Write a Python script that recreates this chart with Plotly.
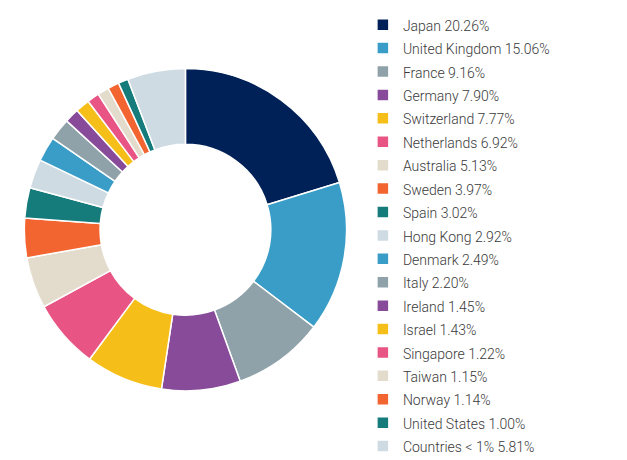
import plotly.graph_objects as go

countries = ["Japan", "United Kingdom", "France", "Germany", "Switzerland",
             "Netherlands", "Australia", "Sweden", "Spain", "Hong Kong",
             "Denmark", "Italy", "Ireland", "Israel", "Singapore",
             "Taiwan", "Norway", "United States", "Countries < 1%"]
weights = [20.26, 15.06, 9.16, 7.90, 7.77, 6.92, 5.13, 3.97, 3.02, 2.92,
           2.49, 2.20, 1.45, 1.43, 1.22, 1.15, 1.14, 1.00, 5.81]
palette = ["#002157", "#3a9dc7", "#8fa1a9", "#874b9a", "#f6be18",
           "#e85484", "#e3dccc", "#f26531", "#157b7b", "#cfdbe2"]

# legend font size sets the row spacing, the label text itself is set smaller
labels = ['<span style="font-size:14px;font-family:Roboto">%s %.2f%%</span>' % (c, w)
          for c, w in zip(countries, weights)]
# after the first colour the palette cycles over the other nine
colors = [palette[0]] + [palette[(i - 1) % 9 + 1] for i in range(1, len(weights))]

fig = go.Figure()
fig.add_trace(go.Pie(
    labels=labels, values=weights, sort=False, direction="clockwise",
    hole=0.53, textinfo="none", hoverinfo="label",
    marker=dict(colors=colors, line=dict(color="white", width=1.5)),
    domain=dict(x=[0.026, 0.54], y=[0.158, 0.878]),
))
fig.update_layout(
    width=627, height=460,
    margin=dict(l=0, r=0, t=0, b=0),
    paper_bgcolor="white",
    font=dict(family="Roboto, sans-serif", size=15.7, color="#3a3a3a", weight=300),
    legend=dict(x=0.566, y=1.0, xanchor="left", yanchor="top",
                traceorder="normal", maxheight=470),
)
fig.write_html("out.html")
